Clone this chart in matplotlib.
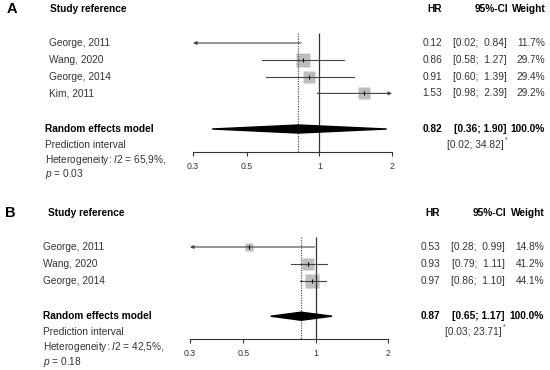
import matplotlib
matplotlib.use('Agg')
import matplotlib.pyplot as plt
from matplotlib.transforms import blended_transform_factory
import numpy as np

plt.rcParams['font.family'] = ['Liberation Sans', 'DejaVu Sans']
plt.rcParams['mathtext.fontset'] = 'custom'
plt.rcParams['mathtext.rm'] = 'Liberation Sans'
plt.rcParams['mathtext.it'] = 'Liberation Sans:italic'

# panel A data
StudiesA = ["George, 2011", "Wang, 2020", "George, 2014", "Kim, 2011"]
HrA = [0.12, 0.86, 0.91, 1.53]
LoA = [0.02, 0.58, 0.60, 0.98]
HiA = [0.84, 1.27, 1.39, 2.39]
WeightA = [11.7, 29.7, 29.4, 29.2]
SummaryA = [0.82, 0.36, 1.90]
PredA = [0.02, 34.82]
I2A = "65,9%"
PA = "0.03"

# panel B data
StudiesB = ["George, 2011", "Wang, 2020", "George, 2014"]
HrB = [0.53, 0.93, 0.97]
LoB = [0.28, 0.79, 0.86]
HiB = [0.99, 1.11, 1.10]
WeightB = [14.8, 41.2, 44.1]
SummaryB = [0.87, 0.65, 1.17]
PredB = [0.03, 23.71]
I2B = "42,5%"
PB = "0.18"

Ticks = [0.3, 0.5, 1, 2]
TickLabels = ["0.3", "0.5", "1", "2"]
XMin, XMax = 0.3, 2

W, H = 550, 370
RowPx = 16.8
TxtCol = '#333333'
Fs = 7.3

fig = plt.figure(figsize=(W / 100, H / 100), dpi=100)


def Panel(Letter, Studies, Hr, Lo, Hi, Wt, Summ, Pred, I2, P,
          PanelTop, Row0, AxLeft, AxRight, NameX, BoldX, LetterX, Cols):
    Ax = fig.add_axes([AxLeft / W, (H - PanelTop - 185) / H,
                       (AxRight - AxLeft) / W, 185 / H])
    Top = -(Row0 - PanelTop) / RowPx
    Ax.set_ylim(Top + 185 / RowPx, Top)
    Ax.set_xscale('log')
    Ax.set_xlim(XMin, XMax)
    Ax.patch.set_alpha(0)

    N = len(Studies)
    YSum = N + 1.12
    YPred = YSum + 0.95
    YHet = YPred + 0.9
    YP = YHet + 0.85
    YAxis = YPred + 0.42
    YHead = -2.0
    YTop = -0.6

    for S in ['left', 'right', 'top']:
        Ax.spines[S].set_visible(False)
    Ax.spines['bottom'].set_position(('data', YAxis))
    Ax.spines['bottom'].set_bounds(XMin, XMax)
    Ax.spines['bottom'].set_linewidth(0.8)
    Ax.spines['bottom'].set_color('#333333')
    Ax.set_yticks([])
    Ax.xaxis.set_minor_locator(matplotlib.ticker.NullLocator())
    Ax.set_xticks(Ticks)
    Ax.set_xticklabels(TickLabels)
    Ax.tick_params(axis='x', direction='out', length=3, width=0.8,
                   color='#333333', labelsize=6.3, pad=4, labelcolor=TxtCol)

    Ax.vlines(1, YTop, YAxis, color='#333333', lw=0.9, zorder=2)
    Ax.vlines(Summ[0], YTop, YAxis, color='#555555', lw=0.9,
              linestyles=(0, (1, 1)), zorder=2)

    MaxW = max(Wt)
    for i in range(N):
        L = max(Lo[i], XMin)
        R = min(Hi[i], XMax)
        if XMin <= Hr[i] <= XMax:
            Side = 9.4 * np.sqrt(Wt[i] / MaxW)
            Ax.plot(Hr[i], i, marker='s', ms=Side, color='#bdbdbd',
                    mec='none', zorder=1)
            Ax.plot(Hr[i], i, marker='|', ms=3, color='black', mew=0.8,
                    zorder=4)
        Arrow = dict(arrowstyle='-|>', lw=0.8, color='#444444',
                     mutation_scale=5, shrinkA=0, shrinkB=0)
        if Lo[i] < XMin:
            Ax.annotate('', xy=(XMin, i), xytext=(R, i), arrowprops=Arrow,
                        zorder=3)
        elif Hi[i] > XMax:
            Ax.annotate('', xy=(XMax, i), xytext=(L, i), arrowprops=Arrow,
                        zorder=3)
        else:
            Ax.plot([L, R], [i, i], color='#444444', lw=0.8, zorder=3)

    Ax.fill([Summ[1], Summ[0], Summ[2], Summ[0]],
            [YSum, YSum - 0.24, YSum, YSum + 0.24], color='black', zorder=3)

    Tr = blended_transform_factory(fig.transFigure, Ax.transData)
    HrX, CiX, WX = Cols

    Ax.text(LetterX / W, YHead, Letter, transform=Tr, fontsize=10.5,
            fontweight='bold', va='center', ha='left', color='black')
    Ax.text((BoldX + 5) / W, YHead, "Study reference", transform=Tr,
            fontsize=Fs, fontweight='bold', va='center', ha='left')
    Ax.text(HrX / W, YHead, "HR", transform=Tr, fontsize=Fs,
            fontweight='bold', va='center', ha='right')
    Ax.text((CiX + 1) / W, YHead, "95%-CI", transform=Tr, fontsize=Fs,
            fontweight='bold', va='center', ha='right')
    Ax.text((WX + 1) / W, YHead, "Weight", transform=Tr, fontsize=Fs,
            fontweight='bold', va='center', ha='right')

    for i in range(N):
        Ax.text(NameX / W, i, Studies[i], transform=Tr, fontsize=Fs,
                va='center', ha='left', color=TxtCol)
        Ax.text(HrX / W, i, f"{Hr[i]:.2f}", transform=Tr, fontsize=Fs,
                va='center', ha='right', color=TxtCol)
        Ax.text(CiX / W, i, f"[{Lo[i]:.2f}; {Hi[i]:5.2f}]", transform=Tr,
                fontsize=Fs, va='center', ha='right', color=TxtCol)
        Ax.text(WX / W, i, f"{Wt[i]:.1f}%", transform=Tr, fontsize=Fs,
                va='center', ha='right', color=TxtCol)

    Ax.text(BoldX / W, YSum, "Random effects model", transform=Tr,
            fontsize=Fs, fontweight='bold', va='center', ha='left')
    Ax.text(HrX / W, YSum, f"{Summ[0]:.2f}", transform=Tr, fontsize=Fs,
            fontweight='bold', va='center', ha='right')
    Ax.text(CiX / W, YSum, f"[{Summ[1]:.2f}; {Summ[2]:.2f}]", transform=Tr,
            fontsize=Fs, fontweight='bold', va='center', ha='right')
    Ax.text(WX / W, YSum, "100.0%", transform=Tr, fontsize=Fs,
            fontweight='bold', va='center', ha='right')

    Ax.text(BoldX / W, YPred, "Prediction interval", transform=Tr,
            fontsize=Fs, va='center', ha='left', color=TxtCol)
    Ax.text((CiX - 3) / W, YPred, f"[{Pred[0]:.2f}; {Pred[1]:.2f}]",
            transform=Tr, fontsize=Fs, va='center', ha='right', color=TxtCol)
    Ax.text((CiX - 2.5) / W, YPred - 0.3, "*", transform=Tr, fontsize=5,
            va='center', ha='left', color=TxtCol)

    Ax.text(BoldX / W, YHet, "Heterogeneity: $\\mathit{I}$2 = " + I2 + ",",
            transform=Tr, fontsize=Fs, va='center', ha='left', color=TxtCol)
    Ax.text(BoldX / W, YP, "$\\mathit{p}$ = " + P, transform=Tr,
            fontsize=Fs, va='center', ha='left', color=TxtCol)
    return Ax


Panel("A", StudiesA, HrA, LoA, HiA, WeightA, SummaryA, PredA, I2A, PA,
      PanelTop=0, Row0=43, AxLeft=193, AxRight=392, NameX=49, BoldX=45,
      LetterX=7, Cols=(442, 507, 545))
Panel("B", StudiesB, HrB, LoB, HiB, WeightB, SummaryB, PredB, I2B, PB,
      PanelTop=185, Row0=247, AxLeft=190, AxRight=388, NameX=43, BoldX=43,
      LetterX=5, Cols=(440, 505, 544))

fig.savefig('out.png', dpi=100, facecolor='white')
